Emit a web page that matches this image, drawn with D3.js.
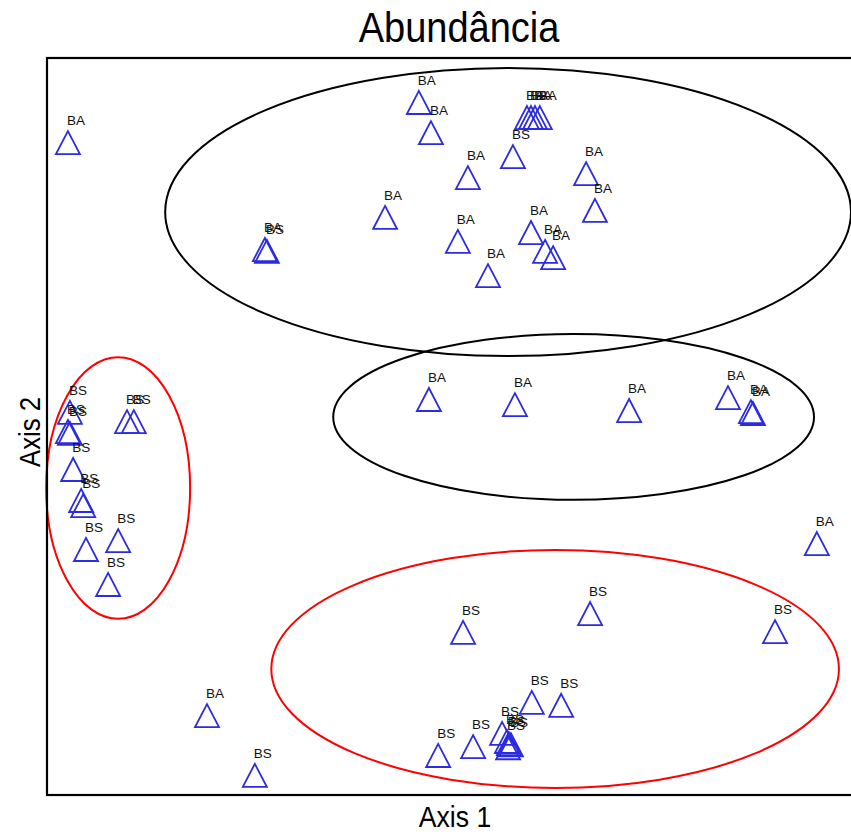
<!DOCTYPE html>
<html>
<head>
<meta charset="utf-8">
<script src="https://cdn.jsdelivr.net/npm/d3@7"></script>
<style>
  html, body { margin: 0; padding: 0; background: #fff; }
  svg { display: block; }
  text { font-family: "Liberation Sans", Arial, sans-serif; }
</style>
</head>
<body>
<svg id="chart" width="851" height="834"></svg>
<script>
// ---- Data (ordination scores) ----
const groups = [
  "BA","BA","BA","BA","BA","BA","BA","BS","BA","BA","BA","BA","BA","BS","BA","BA","BA","BA",
  "BA","BA","BA","BA","BA","BA","BA",
  "BA",
  "BS","BS","BS","BS","BS","BS","BS","BS","BS","BS","BS",
  "BS","BS","BS","BS","BS","BS","BS","BS","BS","BS","BS","BS",
  "BA","BS"
];
const axis1 = [
  -0.948,-0.075,-0.045,0.194,0.204,0.214,0.226,0.159,0.047,0.341,0.363,-0.159,-0.458,-0.453,0.022,0.204,0.239,0.259,
  0.097,-0.050,0.164,0.448,0.694,0.751,0.756,
  0.915,
  -0.943,-0.948,-0.943,-0.801,-0.784,-0.935,-0.915,-0.910,-0.903,-0.823,-0.848,
  0.035,0.351,0.811,0.206,0.279,0.132,0.144,0.149,0.154,0.147,0.060,-0.027,
  -0.602,-0.483
];
const axis2 = [
  0.769,0.878,0.796,0.837,0.837,0.837,0.837,0.731,0.674,0.685,0.585,0.566,0.479,0.474,0.501,0.525,0.474,0.457,
  0.408,0.072,0.058,0.042,0.077,0.039,0.034,
  -0.319,
  0.037,-0.015,-0.020,0.012,0.012,-0.118,-0.202,-0.216,-0.335,-0.311,-0.430,
  -0.560,-0.509,-0.558,-0.750,-0.758,-0.834,-0.856,-0.862,-0.865,-0.873,-0.870,-0.894,
  -0.786,-0.948
];

// Group ellipses (centre, radii in score units)
const ellipseCx = [0.147, 0.310, -0.823, 0.264];
const ellipseCy = [0.582, 0.026, -0.167, -0.658];
const ellipseRx = [0.853, 0.598, 0.179, 0.706];
const ellipseRy = [0.391, 0.225, 0.355, 0.323];
const ellipseColor = ["#000000", "#000000", "#ff0000", "#ff0000"];

const titleText = "Abundância";
const xLabel = "Axis 1";
const yLabel = "Axis 2";

// ---- Layout ----
const svg = d3.select("#chart");
const mLeft = 47, mRight = 851, mTop = 58, mBottom = 795;

const x = d3.scaleLinear().domain([-1, 1]).range([mLeft, mRight]);
const y = d3.scaleLinear().domain([-1, 1]).range([mBottom, mTop]);

const points = axis1.map((v, i) => ({ x: v, y: axis2[i], g: groups[i] }));

// ellipses
const ell = ellipseCx.map((c, i) => ({ cx: c, cy: ellipseCy[i], rx: ellipseRx[i], ry: ellipseRy[i], col: ellipseColor[i] }));
const plot = svg.append("g");
plot.selectAll("ellipse").data(ell).join("ellipse")
  .attr("cx", d => x(d.cx))
  .attr("cy", d => y(d.cy))
  .attr("rx", d => x(d.rx) - x(0))
  .attr("ry", d => y(0) - y(d.ry))
  .attr("fill", "none")
  .attr("stroke", d => d.col)
  .attr("stroke-width", 2);

// triangle symbol (apex up)
const tri = {
  draw(ctx, size) {
    const w = Math.sqrt(size) / 2;
    ctx.moveTo(0, -w);
    ctx.lineTo(w, w * 0.92);
    ctx.lineTo(-w, w * 0.92);
    ctx.closePath();
  }
};
const sym = d3.symbol().type(tri).size(576);

plot.selectAll("path.pt").data(points).join("path")
  .attr("class", "pt")
  .attr("transform", d => `translate(${x(d.x)},${y(d.y)})`)
  .attr("d", sym)
  .attr("fill", "none")
  .attr("stroke", "#2b2be0")
  .attr("stroke-width", 1.8)
  .attr("stroke-linejoin", "miter");

plot.selectAll("text.lab").data(points).join("text")
  .attr("class", "lab")
  .attr("x", d => x(d.x) - 1)
  .attr("y", d => y(d.y) - 18)
  .attr("font-size", 13.5)
  .attr("fill", "#111")
  .text(d => d.g);

// frame
svg.append("rect")
  .attr("x", mLeft).attr("y", mTop)
  .attr("width", 880 - mLeft).attr("height", mBottom - mTop)
  .attr("fill", "none")
  .attr("stroke", "#000")
  .attr("stroke-width", 2.2);

// titles
svg.append("text")
  .attr("transform", "translate(459,42) scale(0.95,1.05)")
  .attr("text-anchor", "middle")
  .attr("font-size", 40)
  .attr("fill", "#000")
  .text(titleText);

svg.append("text")
  .attr("transform", "translate(455,827) scale(0.95,1.05)")
  .attr("text-anchor", "middle")
  .attr("font-size", 28)
  .attr("fill", "#000")
  .text(xLabel);

svg.append("text")
  .attr("transform", `translate(40,${432}) rotate(-90) scale(0.95,1.1)`)
  .attr("text-anchor", "middle")
  .attr("font-size", 27)
  .attr("fill", "#000")
  .text(yLabel);
</script>
</body>
</html>
